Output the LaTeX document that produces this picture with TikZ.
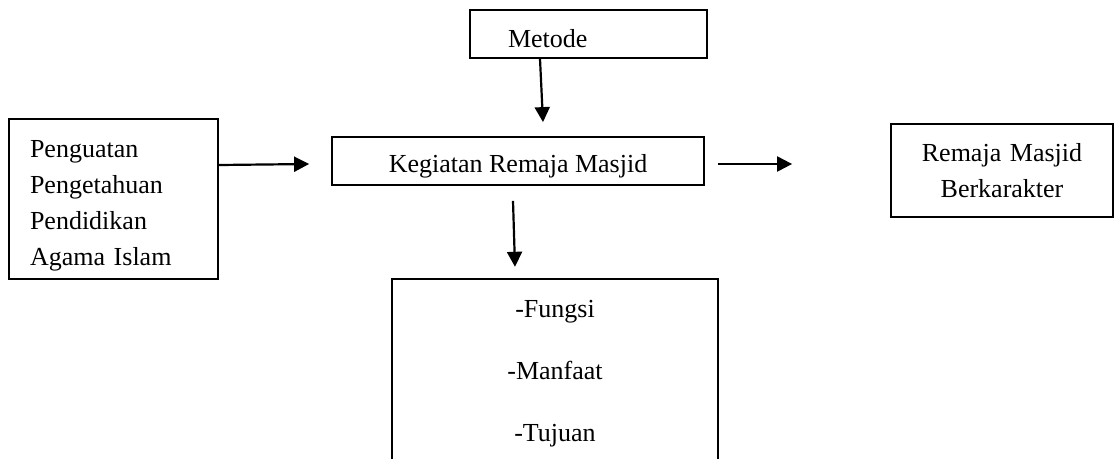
\documentclass[tikz,border=0pt]{standalone}
\usepackage{fontspec}
\setmainfont{Liberation Serif}
\usetikzlibrary{arrows.meta}
\begin{document}
\begin{tikzpicture}[x=1pt, y=-1pt,
  every node/.style={font=\fontsize{26}{36}\selectfont},
  kotak/.style={draw, line width=1.8pt, inner sep=0pt},
  panah/.style={line width=2.2pt, -{Triangle[length=15pt, width=15pt]}}]
 \useasboundingbox (0,0) rectangle (1115,459);

 \node[kotak, minimum width=237pt, minimum height=48pt, text width=237pt,
   align=left, text height=26pt, text depth=0pt] (metode) at (588.5,34)
   {\hspace*{38pt}Metode};
 \node[kotak, minimum width=372pt, minimum height=48pt,
   text height=22pt, text depth=0pt] (kegiatan) at (518,161)
   {Kegiatan Remaja Masjid};
 \node[kotak, minimum width=209pt, minimum height=160pt, text width=167pt,
   inner xsep=21pt, align=left] (kiri) at (113.5,199)
   {\rule{0pt}{30pt}Penguatan\\ Pengetahuan\\ Pendidikan\\ Agama Islam};
 \node[kotak, minimum width=222pt, minimum height=93pt, text width=200pt,
   inner xsep=11pt, align=center] (kanan) at (1002,170.5)
   {Remaja Masjid\\ Berkarakter};

 % kotak bawah terbuka di bawah
 \node[minimum width=326pt, minimum height=180pt, inner sep=0pt,
   align=center] (bawah) at (555,369)
   {\rule{0pt}{26pt}-Fungsi\\[26pt] -Manfaat\\[26pt] -Tujuan};
 \draw[line width=1.8pt] (bawah.south west) |- (bawah.north east) -- (bawah.south east);

 \draw[panah] ([xshift=-48.5pt]metode.south) -- ([xshift=25pt, yshift=14pt]kegiatan.north);
 \draw[panah] ([yshift=34pt]kiri.east) -- ([xshift=-22pt, yshift=-3pt]kegiatan.west);
 \draw[panah] ([xshift=13pt, yshift=-3pt]kegiatan.east) -- ([xshift=-98pt, yshift=6.5pt]kanan.west);
 \draw[panah] ([xshift=-5pt, yshift=-15pt]kegiatan.south) -- ([xshift=-40pt, yshift=12pt]bawah.north);
\end{tikzpicture}
\end{document}
